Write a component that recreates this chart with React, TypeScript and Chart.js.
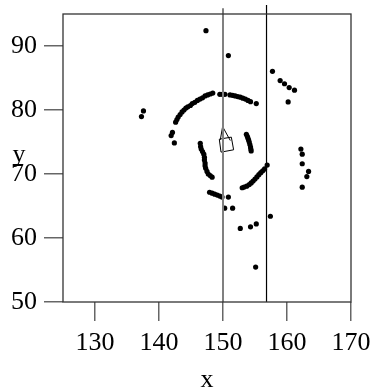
import React, { useEffect, useRef } from "react";
import { Chart, registerables } from "chart.js";

Chart.register(...registerables);

const xTicks = [130, 140, 150, 160, 170];
const yTicks = [50, 60, 70, 80, 90];
const xMin = 125;
const xMax = 170;
const yMin = 50;
const yMax = 95;

const outerArcX = [142.6, 142.8, 143.0, 143.3, 143.6, 143.9, 144.2, 144.5, 144.9, 145.2, 145.6, 146.0, 146.4, 146.8, 147.2, 147.6, 148.0, 148.4, 149.5, 149.9, 150.3, 151.1, 151.5, 151.9, 152.3, 152.7, 153.1, 153.5, 153.9, 154.3, 155.2];
const outerArcY = [78.1, 78.5, 78.9, 79.3, 79.7, 80.0, 80.3, 80.5, 80.7, 81.0, 81.2, 81.5, 81.7, 81.9, 82.2, 82.35, 82.5, 82.65, 82.45, 82.45, 82.45, 82.35, 82.3, 82.2, 82.1, 82.0, 81.85, 81.7, 81.5, 81.3, 81.0];

const innerLeftX = [146.45, 146.5, 146.6, 146.8, 147.0, 147.1, 147.1, 147.2, 147.2, 147.3, 147.5, 147.7, 148.0, 148.3];
const innerLeftY = [74.8, 74.3, 73.9, 73.5, 73.1, 72.6, 72.2, 71.7, 71.3, 70.9, 70.4, 70.0, 69.75, 69.5];

const innerRightX = [153.65, 153.8, 153.9, 154.0, 154.1, 154.2, 154.3, 154.35, 154.4];
const innerRightY = [76.2, 75.9, 75.6, 75.3, 75.0, 74.6, 74.2, 73.9, 73.6];

const lowerRightX = [156.9, 156.5, 156.2, 155.9, 155.6, 155.3, 155.0, 154.7, 154.4, 154.1, 153.7, 153.3, 153.0];
const lowerRightY = [71.4, 70.8, 70.5, 70.2, 69.9, 69.55, 69.2, 68.9, 68.6, 68.35, 68.1, 67.95, 67.85];

const bottomArcX = [147.9, 148.3, 148.7, 149.1, 149.5, 149.85, 150.84];
const bottomArcY = [67.15, 67.0, 66.85, 66.7, 66.55, 66.4, 66.4];

const scatteredX = [147.34, 150.84, 137.57, 137.26, 142.1, 141.9, 142.4, 150.26, 151.5, 152.7, 154.3, 155.2, 157.4, 155.1];
const scatteredY = [92.4, 88.5, 79.85, 78.97, 76.5, 76.0, 74.86, 64.66, 64.66, 61.5, 61.75, 62.2, 63.4, 55.45];

const rightTopX = [157.73, 158.93, 159.61, 160.34, 161.17, 160.18];
const rightTopY = [86.05, 84.6, 84.1, 83.5, 83.1, 81.26];

const rightMidX = [162.17, 162.38, 162.38, 163.37, 163.1, 162.38];
const rightMidY = [73.9, 73.1, 71.6, 70.4, 69.6, 67.94];

const grayLineX = [150, 150];
const grayLineY = [50, 95.9];
const blackLineX = [156.8, 156.8];
const blackLineY = [50, 96.4];

const glyphBoxX = [149.42, 151.3, 151.66, 149.69, 149.42];
const glyphBoxY = [75.44, 75.76, 73.78, 73.42, 75.44];
const glyphArrowX = [149.58, 149.94, 151.14];
const glyphArrowY = [75.34, 77.41, 75.23];

const toPts = (xs: number[], ys: number[]) => xs.map((x, i) => ({ x, y: ys[i] }));

const FONT = "'Liberation Serif', 'Times New Roman', serif";

export default function App() {
  const ref = useRef<HTMLCanvasElement | null>(null);

  useEffect(() => {
    if (!ref.current) return;
    const allX = [...outerArcX, ...innerLeftX, ...innerRightX, ...lowerRightX, ...bottomArcX, ...scatteredX, ...rightTopX, ...rightMidX];
    const allY = [...outerArcY, ...innerLeftY, ...innerRightY, ...lowerRightY, ...bottomArcY, ...scatteredY, ...rightTopY, ...rightMidY];

    const framePlugin = {
      id: "frameAndTitles",
      afterDraw(chart: any) {
        const { ctx, chartArea } = chart;
        ctx.save();
        ctx.strokeStyle = "#333";
        ctx.lineWidth = 1.3;
        ctx.strokeRect(chartArea.left, chartArea.top, chartArea.right - chartArea.left, chartArea.bottom - chartArea.top);
        ctx.fillStyle = "#000";
        ctx.font = `26px ${FONT}`;
        ctx.textAlign = "center";
        ctx.textBaseline = "alphabetic";
        ctx.fillText("x", (chartArea.left + chartArea.right) / 2, chartArea.bottom + 85);
        ctx.fillText("y", 19, (chartArea.top + chartArea.bottom) / 2 + 4);
        ctx.restore();
      },
    };

    const lineDs = (xs: number[], ys: number[], color: string, width: number) => ({
      type: "line" as const,
      data: toPts(xs, ys),
      borderColor: color,
      borderWidth: width,
      pointRadius: 0,
      showLine: true,
      fill: false,
      tension: 0,
      clip: false as any,
    });

    const chart = new Chart(ref.current, {
      type: "scatter",
      data: {
        datasets: [
          lineDs(grayLineX, grayLineY, "#808080", 2),
          lineDs(blackLineX, blackLineY, "#000", 1.2),
          lineDs(glyphBoxX, glyphBoxY, "#000", 1),
          lineDs(glyphArrowX, glyphArrowY, "#000", 1),
          {
            type: "scatter" as const,
            data: toPts(allX, allY),
            backgroundColor: "#000",
            borderWidth: 0,
            pointRadius: 2.6,
          },
        ] as any,
      },
      options: {
        animation: false,
        responsive: false,
        maintainAspectRatio: false,
        layout: { padding: { left: 0, top: 14, right: 22, bottom: 0 } },
        plugins: { legend: { display: false }, tooltip: { enabled: false } },
        scales: {
          x: {
            type: "linear",
            min: xMin,
            max: xMax,
            afterBuildTicks: (s: any) => {
              s.ticks = xTicks.map((v) => ({ value: v }));
            },
            afterFit: (s: any) => {
              s.height = 89;
              s.paddingLeft = 0;
              s.paddingRight = 0;
            },
            grid: { drawOnChartArea: false, drawTicks: true, tickLength: 19, color: "#666", lineWidth: 1.5 },
            border: { display: false },
            ticks: { color: "#000", padding: 7, font: { family: FONT, size: 26 }, maxRotation: 0, autoSkip: false },
          },
          y: {
            type: "linear",
            min: yMin,
            max: yMax,
            afterBuildTicks: (s: any) => {
              s.ticks = yTicks.map((v) => ({ value: v }));
            },
            afterFit: (s: any) => {
              s.width = 63;
              s.paddingTop = 0;
              s.paddingBottom = 0;
            },
            grid: { drawOnChartArea: false, drawTicks: true, tickLength: 19, color: "#666", lineWidth: 1.5 },
            border: { display: false },
            ticks: { color: "#000", padding: 7, font: { family: FONT, size: 26 }, autoSkip: false },
          },
        },
      },
      plugins: [framePlugin],
    });
    return () => chart.destroy();
  }, []);

  return (
    <div style={{ position: "fixed", left: 0, top: 0, width: 373, height: 391, background: "#fff" }}>
      <canvas ref={ref} width={373} height={391} style={{ width: 373, height: 391, display: "block" }} />
    </div>
  );
}
